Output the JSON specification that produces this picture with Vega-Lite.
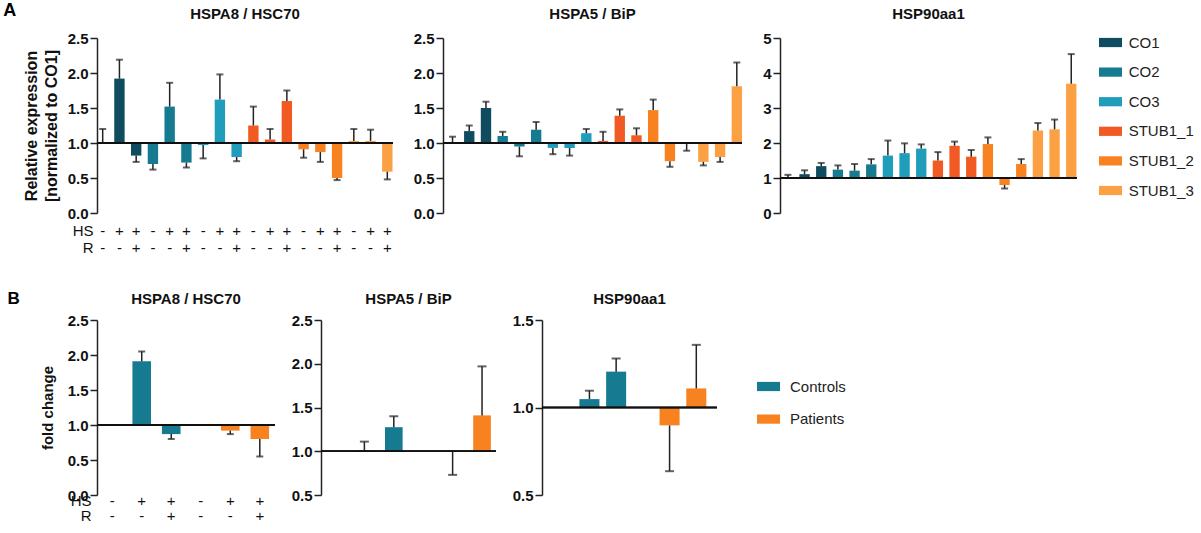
{
  "$schema": "https://vega.github.io/schema/vega-lite/v6.json",
  "background": "white",
  "padding": {"left": 3, "top": 2, "right": 0, "bottom": 0},
  "config": {
    "font": "Liberation Sans",
    "view": {"stroke": null},
    "axis": {"grid": false, "domainColor": "#222", "tickColor": "#222", "labelColor": "#111", "titleColor": "#111", "labelFontSize": 15, "labelFontWeight": "bold", "titleFontSize": 16, "titleFontWeight": "bold", "tickSize": 7, "labelPadding": 2, "domainWidth": 1.5, "tickWidth": 1.5, "labelOverlap": false},
    "title": {"fontSize": 15, "fontWeight": "bold", "color": "#111", "offset": 9.3},
    "legend": {"labelFontSize": 15, "labelColor": "#222", "symbolType": "M-3,-1.2H3V1.2H-3Z", "symbolSize": 59, "symbolStrokeWidth": 0, "symbolOpacity": 1, "padding": 0, "labelOffset": 16}
  },
  "datasets": {
    "a1": [
      {"k": "CO1|-|-", "g": "CO1", "v": 1.0, "e": 1.2},
      {"k": "CO1|+|-", "g": "CO1", "v": 1.92, "e": 2.19},
      {"k": "CO1|+|+", "g": "CO1", "v": 0.82, "e": 0.73},
      {"k": "CO2|-|-", "g": "CO2", "v": 0.70, "e": 0.62},
      {"k": "CO2|+|-", "g": "CO2", "v": 1.52, "e": 1.86},
      {"k": "CO2|+|+", "g": "CO2", "v": 0.72, "e": 0.65},
      {"k": "CO3|-|-", "g": "CO3", "v": 0.97, "e": 0.78},
      {"k": "CO3|+|-", "g": "CO3", "v": 1.62, "e": 1.98},
      {"k": "CO3|+|+", "g": "CO3", "v": 0.80, "e": 0.74},
      {"k": "STUB1_1|-|-", "g": "STUB1_1", "v": 1.25, "e": 1.52},
      {"k": "STUB1_1|+|-", "g": "STUB1_1", "v": 1.05, "e": 1.20},
      {"k": "STUB1_1|+|+", "g": "STUB1_1", "v": 1.60, "e": 1.75},
      {"k": "STUB1_2|-|-", "g": "STUB1_2", "v": 0.91, "e": 0.79},
      {"k": "STUB1_2|+|-", "g": "STUB1_2", "v": 0.87, "e": 0.73},
      {"k": "STUB1_2|+|+", "g": "STUB1_2", "v": 0.50, "e": 0.47},
      {"k": "STUB1_3|-|-", "g": "STUB1_3", "v": 1.03, "e": 1.20},
      {"k": "STUB1_3|+|-", "g": "STUB1_3", "v": 1.03, "e": 1.19},
      {"k": "STUB1_3|+|+", "g": "STUB1_3", "v": 0.59, "e": 0.48}
    ],
    "a2": [
      {"k": "CO1|-|-", "g": "CO1", "v": 1.0, "e": 1.09},
      {"k": "CO1|+|-", "g": "CO1", "v": 1.17, "e": 1.25},
      {"k": "CO1|+|+", "g": "CO1", "v": 1.50, "e": 1.59},
      {"k": "CO2|-|-", "g": "CO2", "v": 1.10, "e": 1.16},
      {"k": "CO2|+|-", "g": "CO2", "v": 0.95, "e": 0.81},
      {"k": "CO2|+|+", "g": "CO2", "v": 1.19, "e": 1.30},
      {"k": "CO3|-|-", "g": "CO3", "v": 0.93, "e": 0.84},
      {"k": "CO3|+|-", "g": "CO3", "v": 0.93, "e": 0.82},
      {"k": "CO3|+|+", "g": "CO3", "v": 1.14, "e": 1.20},
      {"k": "STUB1_1|-|-", "g": "STUB1_1", "v": 1.03, "e": 1.16},
      {"k": "STUB1_1|+|-", "g": "STUB1_1", "v": 1.39, "e": 1.48},
      {"k": "STUB1_1|+|+", "g": "STUB1_1", "v": 1.11, "e": 1.21},
      {"k": "STUB1_2|-|-", "g": "STUB1_2", "v": 1.47, "e": 1.62},
      {"k": "STUB1_2|+|-", "g": "STUB1_2", "v": 0.74, "e": 0.66},
      {"k": "STUB1_2|+|+", "g": "STUB1_2", "v": 1.0, "e": 0.89},
      {"k": "STUB1_3|-|-", "g": "STUB1_3", "v": 0.73, "e": 0.68},
      {"k": "STUB1_3|+|-", "g": "STUB1_3", "v": 0.80, "e": 0.73},
      {"k": "STUB1_3|+|+", "g": "STUB1_3", "v": 1.81, "e": 2.15}
    ],
    "a3": [
      {"k": "CO1|-|-", "g": "CO1", "v": 1.0, "e": 1.09},
      {"k": "CO1|+|-", "g": "CO1", "v": 1.11, "e": 1.22},
      {"k": "CO1|+|+", "g": "CO1", "v": 1.34, "e": 1.43},
      {"k": "CO2|-|-", "g": "CO2", "v": 1.24, "e": 1.36},
      {"k": "CO2|+|-", "g": "CO2", "v": 1.21, "e": 1.40},
      {"k": "CO2|+|+", "g": "CO2", "v": 1.39, "e": 1.54},
      {"k": "CO3|-|-", "g": "CO3", "v": 1.64, "e": 2.07},
      {"k": "CO3|+|-", "g": "CO3", "v": 1.71, "e": 1.99},
      {"k": "CO3|+|+", "g": "CO3", "v": 1.84, "e": 1.96},
      {"k": "STUB1_1|-|-", "g": "STUB1_1", "v": 1.50, "e": 1.74},
      {"k": "STUB1_1|+|-", "g": "STUB1_1", "v": 1.92, "e": 2.04},
      {"k": "STUB1_1|+|+", "g": "STUB1_1", "v": 1.61, "e": 1.80},
      {"k": "STUB1_2|-|-", "g": "STUB1_2", "v": 1.97, "e": 2.16},
      {"k": "STUB1_2|+|-", "g": "STUB1_2", "v": 0.80, "e": 0.70},
      {"k": "STUB1_2|+|+", "g": "STUB1_2", "v": 1.40, "e": 1.54},
      {"k": "STUB1_3|-|-", "g": "STUB1_3", "v": 2.36, "e": 2.57},
      {"k": "STUB1_3|+|-", "g": "STUB1_3", "v": 2.39, "e": 2.67},
      {"k": "STUB1_3|+|+", "g": "STUB1_3", "v": 3.69, "e": 4.54}
    ],
    "b1": [
      {"k": "Controls|-|-", "g": "Controls", "v": 1.0, "e": null},
      {"k": "Controls|+|-", "g": "Controls", "v": 1.91, "e": 2.05},
      {"k": "Controls|+|+", "g": "Controls", "v": 0.87, "e": 0.80},
      {"k": "Patients|-|-", "g": "Patients", "v": 1.0, "e": null},
      {"k": "Patients|+|-", "g": "Patients", "v": 0.92, "e": 0.87},
      {"k": "Patients|+|+", "g": "Patients", "v": 0.80, "e": 0.55}
    ],
    "b2": [
      {"k": "Controls|+|-", "g": "Controls", "v": 1.01, "e": 1.11},
      {"k": "Controls|+|+", "g": "Controls", "v": 1.275, "e": 1.40},
      {"k": "Patients|+|-", "g": "Patients", "v": 0.995, "e": 0.73},
      {"k": "Patients|+|+", "g": "Patients", "v": 1.41, "e": 1.97}
    ],
    "b3": [
      {"k": "Controls|+|-", "g": "Controls", "v": 1.048, "e": 1.096},
      {"k": "Controls|+|+", "g": "Controls", "v": 1.205, "e": 1.28},
      {"k": "Patients|+|-", "g": "Patients", "v": 0.898, "e": 0.636},
      {"k": "Patients|+|+", "g": "Patients", "v": 1.109, "e": 1.358}
    ]
  },
  "vconcat": [
    {
      "title": {"text": "A", "orient": "left", "angle": 0, "anchor": "end", "fontSize": 18, "fontWeight": "bold", "offset": -6, "baseline": "top", "color": "#000", "dy": -4.3},
      "spacing": 19,
      "resolve": {"scale": {"color": "independent", "y": "independent", "x": "independent"}},
      "hconcat": [
        {
          "width": 296, "height": 175,
          "title": "HSPA8 / HSC70",
          "data": {"name": "a1"},
          "layer": [
            {"mark": {"type": "bar"},
             "encoding": {
               "x": {"field": "k", "type": "nominal", "sort": null, "scale": {"paddingInner": 0.38, "paddingOuter": 0.03},
                     "axis": {"title": ["HS", "R"], "labelExpr": "slice(split(datum.value, '|'), 1)", "domain": false, "ticks": false, "tickSize": 0, "labelAngle": 0, "labelFontSize": 15, "labelFontWeight": "normal", "labelLineHeight": 17, "labelPadding": 10, "labelBaseline": "top", "titleFontSize": 15, "titleFontWeight": "normal", "titleLineHeight": 17, "titleAlign": "right", "titleBaseline": "top", "titleX": -4, "titleY": 10, "titleAngle": 0}},
               "y": {"field": "v", "type": "quantitative", "scale": {"domain": [0, 2.5], "nice": false},
                     "axis": {"values": [0, 0.5, 1, 1.5, 2, 2.5], "tickCount": 10, "labelOverlap": false, "format": ".1f", "title": ["Relative expression", "[normalized to CO1]"], "titleLineHeight": 20, "titlePadding": 8}},
               "y2": {"datum": 1},
               "color": {"field": "g", "type": "nominal", "scale": {"domain": ["CO1", "CO2", "CO3", "STUB1_1", "STUB1_2", "STUB1_3"], "range": ["#0f4c5f", "#167b90", "#1f9dba", "#f15a22", "#f7821f", "#fba143"]}, "legend": null}
             }},
            {"mark": {"type": "rule", "color": "#222", "strokeWidth": 1.5},
             "encoding": {"x": {"field": "k", "type": "nominal", "sort": null}, "y": {"field": "v", "type": "quantitative"}, "y2": {"field": "e"}}},
            {"mark": {"type": "tick", "color": "#222", "thickness": 2, "size": 7},
             "encoding": {"x": {"field": "k", "type": "nominal", "sort": null}, "y": {"field": "e", "type": "quantitative"}}},
            {"mark": {"type": "rule", "color": "#111", "strokeWidth": 1.5},
             "encoding": {"y": {"datum": 1}}}
          ]
        },
        {
          "width": 299, "height": 175,
          "title": "HSPA5 / BiP",
          "data": {"name": "a2"},
          "layer": [
            {"mark": {"type": "bar"},
             "encoding": {
               "x": {"field": "k", "type": "nominal", "sort": null, "scale": {"paddingInner": 0.38, "paddingOuter": 0.13, "align": 1}, "axis": null},
               "y": {"field": "v", "type": "quantitative", "scale": {"domain": [0, 2.5], "nice": false},
                     "axis": {"values": [0, 0.5, 1, 1.5, 2, 2.5], "tickCount": 10, "labelOverlap": false, "format": ".1f", "title": null}},
               "y2": {"datum": 1},
               "color": {"field": "g", "type": "nominal", "scale": {"domain": ["CO1", "CO2", "CO3", "STUB1_1", "STUB1_2", "STUB1_3"], "range": ["#0f4c5f", "#167b90", "#1f9dba", "#f15a22", "#f7821f", "#fba143"]}, "legend": null}
             }},
            {"mark": {"type": "rule", "color": "#222", "strokeWidth": 1.5},
             "encoding": {"x": {"field": "k", "type": "nominal", "sort": null}, "y": {"field": "v", "type": "quantitative"}, "y2": {"field": "e"}}},
            {"mark": {"type": "tick", "color": "#222", "thickness": 2, "size": 7},
             "encoding": {"x": {"field": "k", "type": "nominal", "sort": null}, "y": {"field": "e", "type": "quantitative"}}},
            {"mark": {"type": "rule", "color": "#111", "strokeWidth": 1.5},
             "encoding": {"y": {"datum": 1}}}
          ]
        },
        {
          "width": 297, "height": 175,
          "title": "HSP90aa1",
          "data": {"name": "a3"},
          "layer": [
            {"mark": {"type": "bar"},
             "encoding": {
               "x": {"field": "k", "type": "nominal", "sort": null, "scale": {"paddingInner": 0.38, "paddingOuter": 0.1, "align": 0.82}, "axis": null},
               "y": {"field": "v", "type": "quantitative", "scale": {"domain": [0, 5], "nice": false},
                     "axis": {"values": [0, 1, 2, 3, 4, 5], "tickCount": 10, "labelOverlap": false, "format": "d", "title": null}},
               "y2": {"datum": 1},
               "color": {"field": "g", "type": "nominal", "scale": {"domain": ["CO1", "CO2", "CO3", "STUB1_1", "STUB1_2", "STUB1_3"], "range": ["#0f4c5f", "#167b90", "#1f9dba", "#f15a22", "#f7821f", "#fba143"]},
                         "legend": {"title": null, "orient": "none", "legendX": 323, "legendY": -3, "rowPadding": 13.6, "labelOffset": 10.7}}
             }},
            {"mark": {"type": "rule", "color": "#222", "strokeWidth": 1.5},
             "encoding": {"x": {"field": "k", "type": "nominal", "sort": null}, "y": {"field": "v", "type": "quantitative"}, "y2": {"field": "e"}}},
            {"mark": {"type": "tick", "color": "#222", "thickness": 2, "size": 7},
             "encoding": {"x": {"field": "k", "type": "nominal", "sort": null}, "y": {"field": "e", "type": "quantitative"}}},
            {"mark": {"type": "rule", "color": "#111", "strokeWidth": 1.5},
             "encoding": {"y": {"datum": 1}}}
          ]
        }
      ]
    },
    {
      "title": {"text": "B", "orient": "left", "angle": 0, "anchor": "end", "fontSize": 17, "fontWeight": "bold", "offset": 8, "baseline": "top", "color": "#000", "dy": -1},
      "spacing": 15,
      "resolve": {"scale": {"color": "independent", "y": "independent", "x": "independent"}},
      "hconcat": [
        {
          "width": 178, "height": 175,
          "title": {"text": "HSPA8 / HSC70", "offset": 6},
          "data": {"name": "b1"},
          "layer": [
            {"mark": {"type": "bar"},
             "encoding": {
               "x": {"field": "k", "type": "nominal", "sort": null, "scale": {"paddingInner": 0.37, "paddingOuter": 0.2},
                     "axis": {"title": ["HS", "R"], "labelExpr": "slice(split(datum.value, '|'), 1)", "domain": false, "ticks": false, "tickSize": 0, "labelAngle": 0, "labelFontSize": 15, "labelFontWeight": "normal", "labelLineHeight": 15, "labelPadding": -1.5, "labelBaseline": "top", "titleFontSize": 15, "titleFontWeight": "normal", "titleLineHeight": 15, "titleAlign": "right", "titleBaseline": "top", "titleX": -6, "titleY": -1.5, "titleAngle": 0}},
               "y": {"field": "v", "type": "quantitative", "scale": {"domain": [0, 2.5], "nice": false},
                     "axis": {"values": [0, 0.5, 1, 1.5, 2, 2.5], "tickCount": 10, "labelOverlap": false, "format": ".1f", "title": "fold change", "titleFontSize": 15, "titlePadding": 12}},
               "y2": {"datum": 1},
               "color": {"field": "g", "type": "nominal", "scale": {"domain": ["Controls", "Patients"], "range": ["#167b90", "#f7821f"]}, "legend": null}
             }},
            {"transform": [{"filter": "isValid(datum.e)"}],
             "mark": {"type": "rule", "color": "#222", "strokeWidth": 1.5},
             "encoding": {"x": {"field": "k", "type": "nominal", "sort": null}, "y": {"field": "v", "type": "quantitative"}, "y2": {"field": "e"}}},
            {"transform": [{"filter": "isValid(datum.e)"}],
             "mark": {"type": "tick", "color": "#222", "thickness": 2, "size": 7},
             "encoding": {"x": {"field": "k", "type": "nominal", "sort": null}, "y": {"field": "e", "type": "quantitative"}}},
            {"mark": {"type": "rule", "color": "#111", "strokeWidth": 1.5},
             "encoding": {"y": {"datum": 1}}}
          ]
        },
        {
          "width": 175, "height": 175,
          "title": {"text": "HSPA5 / BiP", "offset": 6},
          "data": {"name": "b2"},
          "layer": [
            {"mark": {"type": "bar"},
             "encoding": {
               "x": {"field": "k", "type": "nominal", "sort": null, "scale": {"domain": ["Controls|-|-", "Controls|+|-", "Controls|+|+", "Patients|-|-", "Patients|+|-", "Patients|+|+"], "paddingInner": 0.4, "paddingOuter": 0.175}, "axis": null},
               "y": {"field": "v", "type": "quantitative", "scale": {"domain": [0.5, 2.5], "nice": false},
                     "axis": {"values": [0.5, 1, 1.5, 2, 2.5], "tickCount": 10, "labelOverlap": false, "format": ".1f", "title": null}},
               "y2": {"datum": 1},
               "color": {"field": "g", "type": "nominal", "scale": {"domain": ["Controls", "Patients"], "range": ["#167b90", "#f7821f"]}, "legend": null}
             }},
            {"mark": {"type": "rule", "color": "#222", "strokeWidth": 1.5},
             "encoding": {"x": {"field": "k", "type": "nominal", "sort": null}, "y": {"field": "v", "type": "quantitative"}, "y2": {"field": "e"}}},
            {"mark": {"type": "tick", "color": "#222", "thickness": 2, "size": 9},
             "encoding": {"x": {"field": "k", "type": "nominal", "sort": null}, "y": {"field": "e", "type": "quantitative"}}},
            {"mark": {"type": "rule", "color": "#111", "strokeWidth": 1.5},
             "encoding": {"y": {"datum": 1}}}
          ]
        },
        {
          "width": 175, "height": 175,
          "title": {"text": "HSP90aa1", "offset": 6},
          "data": {"name": "b3"},
          "layer": [
            {"mark": {"type": "bar"},
             "encoding": {
               "x": {"field": "k", "type": "nominal", "sort": null, "scale": {"domain": ["Controls|-|-", "Controls|+|-", "Controls|+|+", "Patients|-|-", "Patients|+|-", "Patients|+|+"], "paddingInner": 0.25, "paddingOuter": 0.4}, "axis": null},
               "y": {"field": "v", "type": "quantitative", "scale": {"domain": [0.5, 1.5], "nice": false},
                     "axis": {"values": [0.5, 1, 1.5], "tickCount": 10, "labelOverlap": false, "format": ".1f", "title": null}},
               "y2": {"datum": 1},
               "color": {"field": "g", "type": "nominal", "scale": {"domain": ["Controls", "Patients"], "range": ["#167b90", "#f7821f"]},
                         "legend": {"title": null, "orient": "none", "legendX": 219, "legendY": 59, "rowPadding": 16.6, "labelOffset": 14}}
             }},
            {"mark": {"type": "rule", "color": "#222", "strokeWidth": 1.5},
             "encoding": {"x": {"field": "k", "type": "nominal", "sort": null}, "y": {"field": "v", "type": "quantitative"}, "y2": {"field": "e"}}},
            {"mark": {"type": "tick", "color": "#222", "thickness": 2, "size": 9},
             "encoding": {"x": {"field": "k", "type": "nominal", "sort": null}, "y": {"field": "e", "type": "quantitative"}}},
            {"mark": {"type": "rule", "color": "#111", "strokeWidth": 1.5},
             "encoding": {"y": {"datum": 1}}}
          ]
        }
      ]
    }
  ],
  "spacing": 35
}
